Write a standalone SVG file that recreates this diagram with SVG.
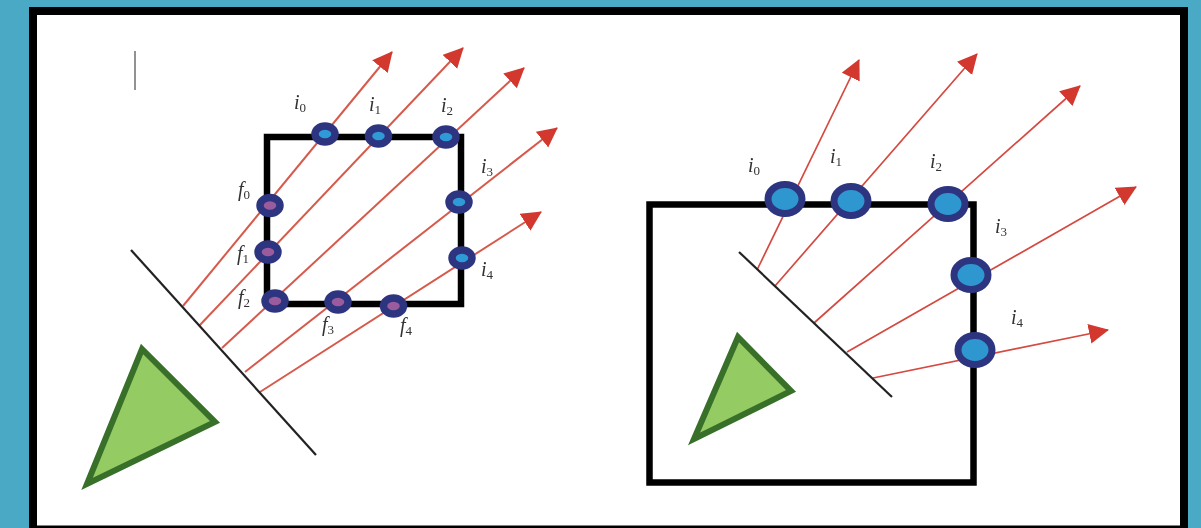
<svg xmlns="http://www.w3.org/2000/svg" width="1201" height="528" viewBox="0 0 1201 528">
<defs>
<marker id="arrow" markerUnits="userSpaceOnUse" markerWidth="24" markerHeight="22" refX="19" refY="10" orient="auto"><path d="M0 0L20 10L0 20Z" fill="#d3372f"/></marker>
<filter id="soft" x="-5%" y="-5%" width="110%" height="110%"><feGaussianBlur stdDeviation="0.6"/></filter>
</defs>
<style>
.ray{stroke:#d65a4c;stroke-width:2;fill:none;marker-end:url(#arrow)}
.ray2{stroke:#d4483f;stroke-width:1.7;fill:none;marker-end:url(#arrow)}
.mirror{stroke:#222;stroke-width:2.200;fill:none}
.box{stroke:#000;stroke-width:6.500;fill:none;stroke-linejoin:miter}
.tri{fill:#95cb64;stroke:#38702c;stroke-width:6;stroke-linejoin:miter}
.ni{fill:#2e9bd6;stroke:#2e3580;stroke-width:7.500}
.nf{fill:#9b5b9e;stroke:#2e3580;stroke-width:7.500}
.bi{fill:#2e97d0;stroke:#2e3580;stroke-width:7}
text{font-family:"Liberation Serif","DejaVu Serif",serif;font-style:italic;font-size:20px;fill:#333}
.sub{font-size:13px;font-style:normal}
</style>
<rect width="1201" height="528" fill="#4aaac6"/>
<rect x="29" y="7" width="1159" height="521" fill="#000"/>
<rect x="37" y="15" width="1143" height="510.500" fill="#fff"/>
<g filter="url(#soft)">
<path d="M135 51V90" stroke="#777" stroke-width="1.600"/>
<g id="connectors">
<path class="ray" d="M183 306L392 52"/>
<path class="ray" d="M199 326L463 48"/>
<path class="ray" d="M222 348L524 68"/>
<path class="ray" d="M245 372L557 128"/>
<path class="ray" d="M260 392L541 212"/>
<path class="ray2" d="M757 270L859 60"/>
<path class="ray2" d="M775 286L977 54"/>
<path class="ray2" d="M814 323L1080 86"/>
<path class="ray2" d="M847 352L1136 187"/>
<path class="ray2" d="M873 378L1108 330"/>
</g>
<g id="left-mirror"><path class="mirror" d="M131 250L316 455"/></g>
<g id="right-mirror"><path class="mirror" d="M739 252L892 397"/></g>
<g id="left-source"><path class="tri" d="M142 349L215 422L87 484Z"/></g>
<g id="right-source"><path class="tri" d="M738 337L791 391L694 439Z"/></g>
<g id="left-box"><rect class="box" x="267" y="137" width="194" height="167"/></g>
<g id="right-box"><path class="box" d="M649.500 204.500H973.500V482.500H649.500Z"/></g>
<g id="left-i0"><ellipse class="ni" cx="325" cy="134" rx="10" ry="8"/><text x="294" y="109">i<tspan class="sub" dy="3">0</tspan></text></g>
<g id="left-i1"><ellipse class="ni" cx="378.500" cy="136" rx="10" ry="8"/><text x="369" y="111">i<tspan class="sub" dy="3">1</tspan></text></g>
<g id="left-i2"><ellipse class="ni" cx="446" cy="137" rx="10" ry="8"/><text x="441" y="112">i<tspan class="sub" dy="3">2</tspan></text></g>
<g id="left-i3"><ellipse class="ni" cx="459" cy="202" rx="10" ry="8"/><text x="481" y="173">i<tspan class="sub" dy="3">3</tspan></text></g>
<g id="left-i4"><ellipse class="ni" cx="462" cy="258" rx="10" ry="8"/><text x="481" y="276">i<tspan class="sub" dy="3">4</tspan></text></g>
<g id="left-f0"><ellipse class="nf" cx="270" cy="205.500" rx="10" ry="8"/><text x="238" y="196">f<tspan class="sub" dy="3">0</tspan></text></g>
<g id="left-f1"><ellipse class="nf" cx="268" cy="252" rx="10" ry="8"/><text x="237" y="260">f<tspan class="sub" dy="3">1</tspan></text></g>
<g id="left-f2"><ellipse class="nf" cx="275" cy="301" rx="10" ry="8"/><text x="238" y="304">f<tspan class="sub" dy="3">2</tspan></text></g>
<g id="left-f3"><ellipse class="nf" cx="338" cy="302" rx="10" ry="8"/><text x="322" y="331">f<tspan class="sub" dy="3">3</tspan></text></g>
<g id="left-f4"><ellipse class="nf" cx="393.500" cy="306" rx="10" ry="8"/><text x="400" y="332">f<tspan class="sub" dy="3">4</tspan></text></g>
<g id="right-i0"><ellipse class="bi" cx="785" cy="199" rx="17" ry="14.500"/><text x="748" y="172">i<tspan class="sub" dy="3">0</tspan></text></g>
<g id="right-i1"><ellipse class="bi" cx="851" cy="201" rx="17" ry="14.500"/><text x="830" y="163">i<tspan class="sub" dy="3">1</tspan></text></g>
<g id="right-i2"><ellipse class="bi" cx="948" cy="204" rx="17" ry="14.500"/><text x="930" y="168">i<tspan class="sub" dy="3">2</tspan></text></g>
<g id="right-i3"><ellipse class="bi" cx="971" cy="275" rx="17" ry="14.500"/><text x="995" y="233">i<tspan class="sub" dy="3">3</tspan></text></g>
<g id="right-i4"><ellipse class="bi" cx="975" cy="350" rx="17" ry="14.500"/><text x="1011" y="324">i<tspan class="sub" dy="3">4</tspan></text></g>
</g>
</svg>
